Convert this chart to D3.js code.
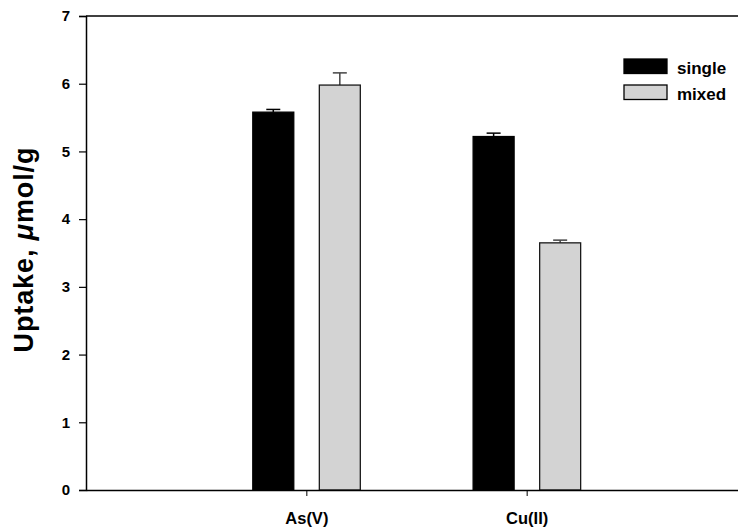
<!DOCTYPE html>
<html><head><meta charset="utf-8">
<script src="https://cdn.jsdelivr.net/npm/d3@7"></script>
<style>body{margin:0;background:#fff}svg{display:block;font-family:"Liberation Sans",Arial,sans-serif;font-weight:bold}</style>
</head><body><svg id="c" width="738" height="532"></svg>
<script>
const categories = ["As(V)", "Cu(II)"];
const seriesNames = ["single", "mixed"];
const singleValues = [5.58, 5.22];
const singleErrors = [0.04, 0.05];
const mixedValues = [5.98, 3.65];
const mixedErrors = [0.18, 0.04];
const yTicks = [0, 1, 2, 3, 4, 5, 6, 7];
const colors = ["#000000", "#d3d3d3"];

const svg = d3.select("#c");
const x = d3.scaleLinear().domain([0, 3]).range([86, 747]);
const y = d3.scaleLinear().domain([0, 7]).range([490, 16]);

// frame top line
svg.append("line").attr("x1", 86).attr("x2", 738).attr("y1", y(7)).attr("y2", y(7))
  .attr("stroke", "#000").attr("stroke-width", 1.5);

const series = [
  {name: seriesNames[0], vals: singleValues, errs: singleErrors, off: -0.15, fill: colors[0], stroke: "#000", err: "#000"},
  {name: seriesNames[1], vals: mixedValues, errs: mixedErrors, off: 0.152, fill: colors[1], stroke: "#1a1a1a", err: "#444"}
];
const bw = x(0.186) - x(0);
series.forEach(s => {
  const g = svg.append("g");
  s.vals.forEach((v, i) => {
    const cx = x(i + 1 + s.off);
    g.append("line").attr("x1", cx).attr("x2", cx).attr("y1", y(v)).attr("y2", y(v + s.errs[i]))
      .attr("stroke", s.err).attr("stroke-width", 1.5);
    g.append("line").attr("x1", cx - 7).attr("x2", cx + 7).attr("y1", y(v + s.errs[i])).attr("y2", y(v + s.errs[i]))
      .attr("stroke", s.err).attr("stroke-width", 1.5);
    g.append("rect").attr("x", cx - bw / 2).attr("y", y(v)).attr("width", bw).attr("height", y(0) - y(v))
      .attr("fill", s.fill).attr("stroke", s.stroke).attr("stroke-width", 1.3);
  });
});

// y axis
const yAxis = svg.append("g").attr("transform", "translate(86,0)")
  .call(d3.axisLeft(y).tickValues(yTicks).tickSize(7).tickPadding(9).tickFormat(d3.format("d")));
yAxis.select(".domain").attr("stroke-width", 1.5);
yAxis.selectAll("text").attr("font-size", 15).attr("font-weight", "bold").attr("font-family", "Liberation Sans, Arial, sans-serif").attr("fill", "#000");
yAxis.selectAll("line").attr("stroke-width", 1.2);

// x axis
const xAxis = svg.append("g").attr("transform", "translate(0,490)")
  .call(d3.axisBottom(x).tickValues([1, 2]).tickSize(6).tickSizeOuter(0).tickPadding(16).tickFormat(d => categories[d - 1]));
xAxis.select(".domain").attr("stroke-width", 1.5);
xAxis.selectAll("text").attr("font-size", 16.5).attr("font-weight", "bold").attr("font-family", "Liberation Sans, Arial, sans-serif").attr("fill", "#000");

// y title
const yt = svg.append("text").attr("transform", "translate(33,250) rotate(-90)").attr("text-anchor", "middle")
  .attr("font-size", 27).attr("font-weight", "bold").attr("textLength", 205).attr("lengthAdjust", "spacing");
yt.append("tspan").text("Uptake, ");
yt.append("tspan").attr("font-style", "italic").text("μ");
yt.append("tspan").text("mol/g");

// legend
series.forEach((s, i) => {
  const ly = 59 + i * 26;
  svg.append("rect").attr("x", 624).attr("y", ly).attr("width", 43).attr("height", 14.5)
    .attr("fill", s.fill).attr("stroke", "#000").attr("stroke-width", 1.3);
  svg.append("text").attr("x", 677).attr("y", ly + 15).attr("font-size", 17).text(s.name);
});
</script></body></html>
